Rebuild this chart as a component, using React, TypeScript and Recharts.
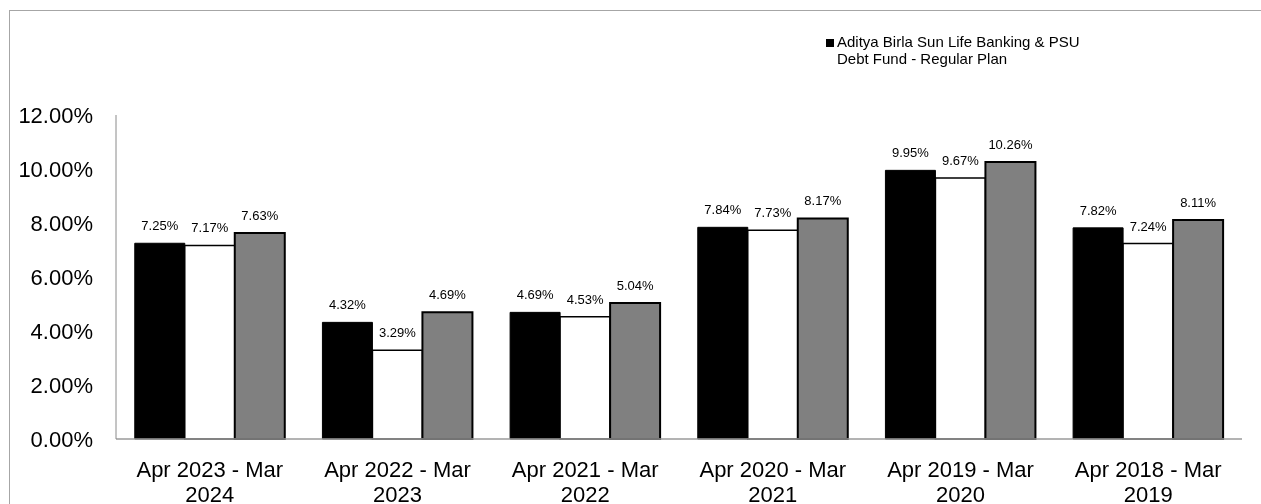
import React from 'react';
import { BarChart, Bar, XAxis, YAxis, Legend, LabelList } from 'recharts';

const periods = [
  'Apr 2023 - Mar 2024',
  'Apr 2022 - Mar 2023',
  'Apr 2021 - Mar 2022',
  'Apr 2020 - Mar 2021',
  'Apr 2019 - Mar 2020',
  'Apr 2018 - Mar 2019',
];
const schemeReturns = [7.25, 4.32, 4.69, 7.84, 9.95, 7.82];
const benchmarkReturns = [7.17, 3.29, 4.53, 7.73, 9.67, 7.24];
const additionalReturns = [7.63, 4.69, 5.04, 8.17, 10.26, 8.11];
const yTicks = [0, 2, 4, 6, 8, 10, 12];

const SCHEME_NAME = 'Aditya Birla Sun Life Banking & PSU Debt Fund - Regular Plan';

const data = periods.map((p, i) => ({
  period: p,
  scheme: schemeReturns[i],
  benchmark: benchmarkReturns[i],
  additional: additionalReturns[i],
}));

const FONT = '"Liberation Sans", Arial, sans-serif';
const pct = (v: any) => `${Number(v).toFixed(2)}%`;

// splits "Apr 2023 - Mar 2024" into two lines like the original
const PeriodTick = (props: any) => {
  const { x, y, payload } = props;
  const words = String(payload.value).split(' ');
  const line1 = words.slice(0, 4).join(' ');
  const line2 = words.slice(4).join(' ');
  return (
    <g>
      <text x={x} y={y + 38} textAnchor="middle" fontSize={22} fill="#000" fontFamily={FONT}>{line1}</text>
      <text x={x} y={y + 63} textAnchor="middle" fontSize={22} fill="#000" fontFamily={FONT}>{line2}</text>
    </g>
  );
};

const SchemeLegend = () => (
  <div style={{ display: 'flex', alignItems: 'flex-start', fontFamily: FONT, fontSize: 15, lineHeight: '17px', color: '#000' }}>
    <div style={{ width: 8, height: 8, background: '#000', marginTop: 6, marginRight: 3, flex: 'none' }} />
    <div style={{ width: 270 }}>{SCHEME_NAME}</div>
  </div>
);

export default function App() {
  return (
    // fixed so the oversized frame never adds page scrollbars
    <div style={{ position: 'fixed', left: 8, top: 8, width: 1253, height: 496, overflow: 'hidden' }}>
      {/* frame of the original runs off the right and bottom edge */}
      <div style={{ position: 'absolute', left: 1, top: 2, right: 0, bottom: 0, borderTop: '1.5px solid #a6a6a6', borderLeft: '1.5px solid #a6a6a6' }} />
      <div style={{ position: 'absolute', left: 0, top: 0 }}>
        <BarChart
          width={1253}
          height={496}
          data={data}
          margin={{ top: 107, right: 19, left: 0, bottom: 0 }}
          barCategoryGap="10%"
          barGap={0}
          style={{ fontFamily: FONT }}
        >
          <XAxis
            dataKey="period"
            height={65}
            axisLine={{ stroke: '#9a9a9a', strokeWidth: 1.5 }}
            tickLine={false}
            tickSize={0}
            tickMargin={0}
            interval={0}
            tick={<PeriodTick />}
          />
          <YAxis
            width={108}
            domain={[0, 12]}
            ticks={yTicks}
            axisLine={{ stroke: '#8a8a8a', strokeWidth: 1 }}
            tickLine={false}
            tickSize={0}
            tickMargin={23}
            tickFormatter={pct}
            tick={{ fill: '#000', fontSize: 22, fontFamily: FONT }}
          />
          <Legend
            layout="horizontal"
            verticalAlign="middle"
            align="center"
            content={<SchemeLegend />}
            wrapperStyle={{ position: 'absolute', left: 818, top: 25, width: 320, height: 40 }}
          />
          <Bar dataKey="scheme" name={SCHEME_NAME} fill="#000000" stroke="#000000" strokeWidth={1} isAnimationActive={false}>
            <LabelList dataKey="scheme" position="top" offset={13} formatter={pct} style={{ fill: '#000', fontSize: 13, fontFamily: FONT }} />
          </Bar>
          <Bar dataKey="benchmark" name="Benchmark" fill="#ffffff" stroke="#000000" strokeWidth={1.5} isAnimationActive={false}>
            <LabelList dataKey="benchmark" position="top" offset={13} formatter={pct} style={{ fill: '#000', fontSize: 13, fontFamily: FONT }} />
          </Bar>
          <Bar dataKey="additional" name="Additional Benchmark" fill="#808080" stroke="#000000" strokeWidth={2} isAnimationActive={false}>
            <LabelList dataKey="additional" position="top" offset={13} formatter={pct} style={{ fill: '#000', fontSize: 13, fontFamily: FONT }} />
          </Bar>
        </BarChart>
      </div>
    </div>
  );
}
